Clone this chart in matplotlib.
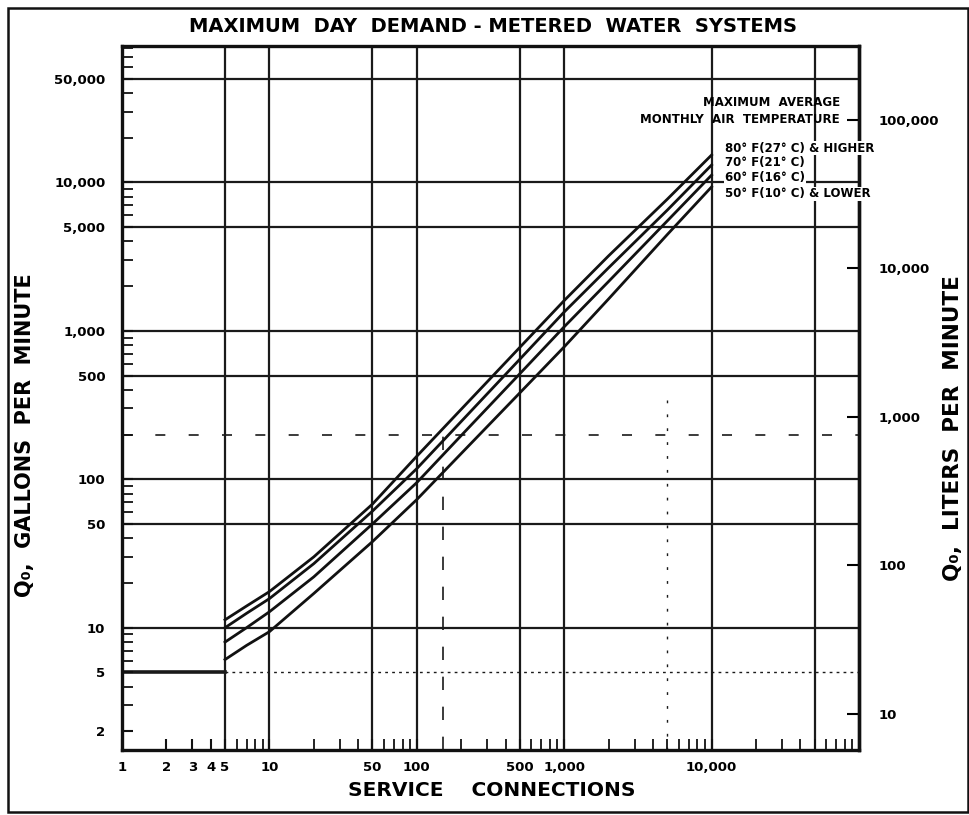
import numpy as np
import matplotlib
matplotlib.use('Agg')
from matplotlib import pyplot as plt
from matplotlib.patches import Rectangle

plt.rcParams['font.family'] = ['DejaVu Sans']
plt.rcParams['font.weight'] = 'bold'

# service connections and Q0 (gpm)
connections = [5, 7, 10, 20, 50, 100, 200, 500, 1000, 2000, 5000, 10000]
q_80F = [11.3, 14.0, 17.5, 30, 68, 143, 296, 774, 1600, 3200, 7700, 15300]
q_70F = [10.0, 12.5, 15.7, 27, 61, 118, 245, 644, 1340, 2660, 6500, 13100]
q_60F = [8.0, 10.0, 12.8, 22, 50, 95, 197, 514, 1065, 2150, 5500, 11200]
q_50F = [6.1, 7.6, 9.4, 17, 38, 73, 149, 382, 780, 1640, 4450, 9330]
curve_labels = ['80° F(27° C) & HIGHER', '70° F(21° C)', '60° F(16° C)', '50° F(10° C) & LOWER']

x_ticks = [1, 2, 3, 4, 5, 10, 50, 100, 500, 1000, 10000]
x_ticklabels = ['1', '2', '3', '4', '5', '10', '50', '100', '500', '1,000', '10,000']
y_ticks = [2, 5, 10, 50, 100, 500, 1000, 5000, 10000, 50000]
y_ticklabels = ['2', '5', '10', '50', '100', '500', '1,000', '5,000', '10,000', '50,000']
lpm_ticks = [10, 100, 1000, 10000, 100000]
lpm_ticklabels = ['10', '100', '1,000', '10,000', '100,000']
grid_x = [5, 10, 50, 100, 500, 1000, 10000, 50000]
grid_y = [10, 50, 100, 500, 1000, 5000, 10000, 50000]
GAL_TO_L = 3.785

fig = plt.figure(figsize=(9.7, 8.15), dpi=100)
ax = fig.add_axes([122/970, 1-750/815, 737/970, 704/815])
ax.set_xscale('log')
ax.set_yscale('log')
ax.set_xlim(1, 100000)
ax.set_ylim(1.5, 83000)

for gx in grid_x:
    ax.axvline(gx, color='#1a1a1a', lw=1.6, zorder=1)
for gy in grid_y:
    ax.axhline(gy, color='#1a1a1a', lw=1.6, zorder=1)
# the 5 gpm line is heavy on the left and faint beyond 5 connections
ax.plot([1, 5], [5, 5], color='#1a1a1a', lw=2.6, zorder=1)
ax.plot([5, 100000], [5, 5], color='#1a1a1a', lw=1.0, ls=(0, (2, 3)), zorder=1)
# faint scan remnants of the 200 gpm line and 150 / 5,000 connection lines
ax.axhline(200, color='#1a1a1a', lw=1.2, ls=(0, (6, 14)), zorder=1)
ax.plot([150, 150], [1.5, 250], color='#1a1a1a', lw=1.2, ls=(0, (8, 10)), zorder=1)
ax.plot([5000, 5000], [1.5, 400], color='#1a1a1a', lw=1.0, ls=(0, (2, 8)), zorder=1)

for q in (q_80F, q_70F, q_60F, q_50F):
    ax.plot(connections, q, color='#111111', lw=2.0, zorder=3)

for s in ax.spines.values():
    s.set_linewidth(2.4)
    s.set_color('#111111')

ax.set_xticks(x_ticks)
ax.set_xticklabels(x_ticklabels)
ax.set_yticks(y_ticks)
ax.set_yticklabels(y_ticklabels)
ax.tick_params(which='major', direction='in', length=8, width=1.5, labelsize=9.5, color='#111111')
ax.tick_params(which='minor', direction='in', length=8, width=1.3, color='#111111')
ax.tick_params(axis='x', which='major', pad=8)
ax.tick_params(axis='y', which='major', pad=12)

sec = ax.secondary_yaxis('right', functions=(lambda g: g*GAL_TO_L, lambda l: l/GAL_TO_L))
sec.set_yticks(lpm_ticks)
sec.set_yticklabels(lpm_ticklabels)
sec.yaxis.set_minor_locator(matplotlib.ticker.NullLocator())
sec.tick_params(direction='in', length=9, width=1.5, pad=14, labelsize=9.5)
sec.spines['right'].set_linewidth(2.4)

# legend block
ax.text(0.974, 0.920, 'MAXIMUM  AVERAGE', transform=ax.transAxes, ha='right', va='center', fontsize=8.5)
ax.text(0.974, 0.895, 'MONTHLY  AIR  TEMPERATURE', transform=ax.transAxes, ha='right', va='center', fontsize=8.5)
for lab, yy in zip(curve_labels, [0.855, 0.834, 0.813, 0.790]):
    ax.text(0.818, yy, lab, transform=ax.transAxes, ha='left', va='center', fontsize=8.5,
            bbox=dict(facecolor='white', edgecolor='none', pad=0.6), zorder=5, clip_on=False)

fig.text(493/970, 1-27/815, 'MAXIMUM  DAY  DEMAND - METERED  WATER  SYSTEMS',
         ha='center', va='center', fontsize=14)
fig.text(492/970, 1-790/815, 'SERVICE    CONNECTIONS', ha='center', va='center', fontsize=14.5)
fig.text(25/970, 1-435/815, 'Q₀,  GALLONS  PER  MINUTE', ha='center', va='center', rotation=90, fontsize=15)
fig.text(953/970, 1-428/815, 'Q₀,  LITERS  PER  MINUTE', ha='center', va='center', rotation=90, fontsize=15.5)

fig.patches.append(Rectangle((8/970, 3/815), 960/970, 804/815, transform=fig.transFigure,
                             fill=False, edgecolor='#111111', lw=1.8))

fig.savefig('out.png', dpi=100)
